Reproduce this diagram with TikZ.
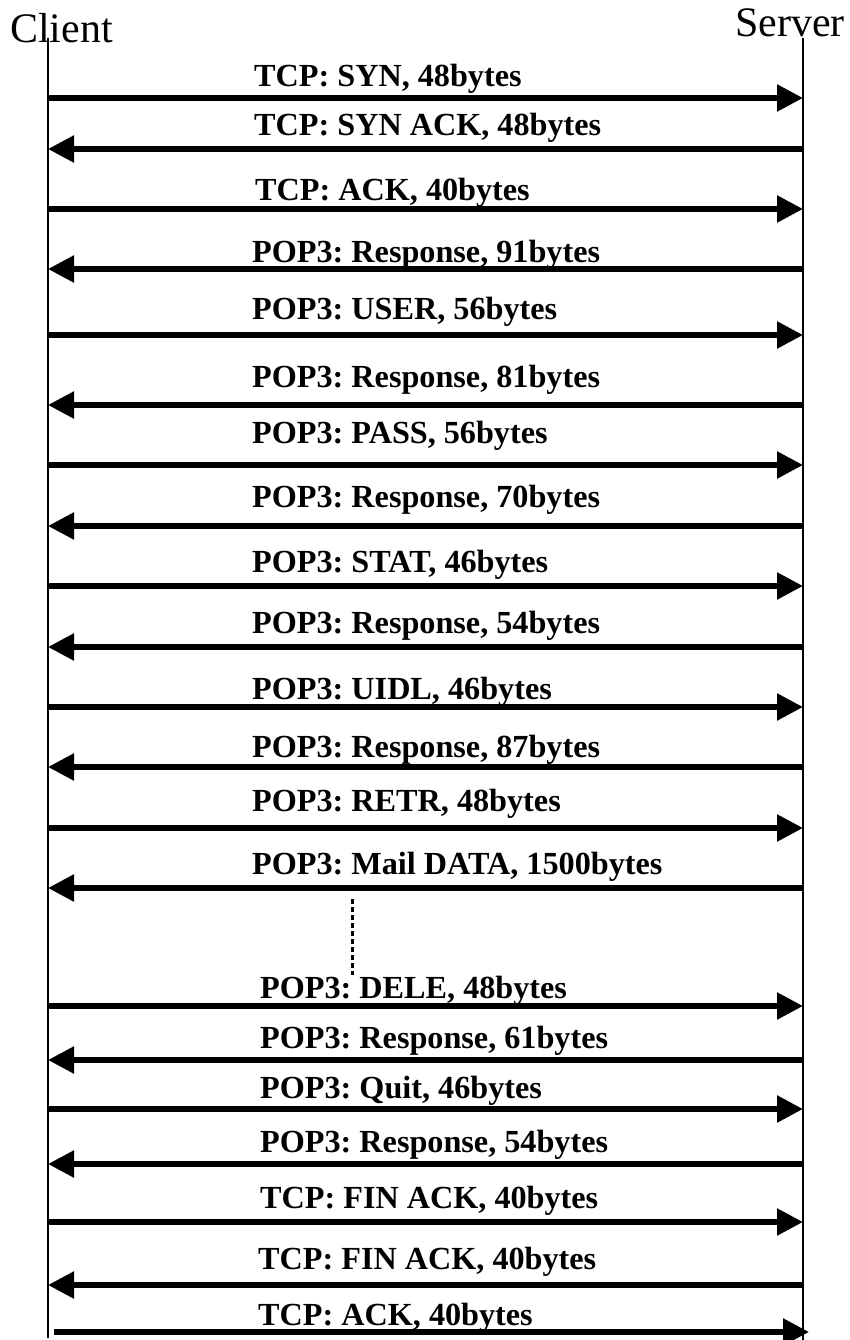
\documentclass[tikz,border=0pt]{standalone}
\usepackage{fontspec}
\setmainfont{Liberation Serif}
\usetikzlibrary{arrows.meta}
\frenchspacing
\begin{document}
\begin{tikzpicture}[x=1pt,y=-1pt,
  party/.style={inner sep=0pt,anchor=base west,font=\fontsize{42}{48}\selectfont},
  msglabel/.style={inner sep=0pt,anchor=base west,font=\fontsize{32.2}{36}\selectfont\bfseries\frenchspacing},
  lifeline/.style={line width=1.8pt},
  msg/.style={line width=5.5pt,-{Triangle[length=26pt,width=26pt]}},
  gap/.style={line width=3pt,dash pattern=on 5pt off 3pt}]
\useasboundingbox (0,0) rectangle (850,1340);
\node[party] (client) at (10,43) {Client};
\node[party] (server) at (735,37) {Server};
\coordinate (ctop) at (48,38);
\coordinate (cbot) at (48,1338);
\coordinate (stop) at (803,38);
\coordinate (sbot) at (803,1340);
\draw[lifeline] (ctop) -- (cbot);
\draw[lifeline] (stop) -- (sbot);
\foreach \i/\ay/\by/\d/\lx/\t in {
  1/98/87/r/254/{TCP: SYN, 48bytes},
  2/149/136/l/254/{TCP: SYN ACK, 48bytes},
  3/209/201/r/255/{TCP: ACK, 40bytes},
  4/269/262/l/252/{POP3: Response, 91bytes},
  5/335/319/r/252/{POP3: USER, 56bytes},
  6/405/387/l/252/{POP3: Response, 81bytes},
  7/465/443/r/252/{POP3: PASS, 56bytes},
  8/526/507/l/252/{POP3: Response, 70bytes},
  9/586/572/r/252/{POP3: STAT, 46bytes},
  10/647/633/l/252/{POP3: Response, 54bytes},
  11/707/699/r/252/{POP3: UIDL, 46bytes},
  12/767/757/l/252/{POP3: Response, 87bytes},
  13/828/811/r/252/{POP3: RETR, 48bytes},
  14/888/874/l/252/{POP3: Mail DATA, 1500bytes},
  15/1006/998/r/260/{POP3: DELE, 48bytes},
  16/1060/1048/l/260/{POP3: Response, 61bytes},
  17/1109/1098/r/260/{POP3: Quit, 46bytes},
  18/1164/1152/l/260/{POP3: Response, 54bytes},
  19/1222/1208/r/260/{TCP: FIN ACK, 40bytes},
  20/1285/1269/l/258/{TCP: FIN ACK, 40bytes}}{
  \coordinate (c\i) at (48,\ay);
  \coordinate (s\i) at (803,\ay);
  \node[msglabel] (lab\i) at (\lx,\by) {\t};
  \if r\d
    \draw[msg] (c\i) -- (s\i);
  \else
    \draw[msg] (s\i) -- (c\i);
  \fi
}
\coordinate (c21) at (54,1332);
\coordinate (s21) at (809,1332);
\node[msglabel] (lab21) at (258,1325) {TCP: ACK, 40bytes};
\draw[msg] (c21) -- (s21);
\coordinate (dtop) at (352,899);
\coordinate (dbot) at (352,975);
\draw[gap] (dtop) -- (dbot);
\end{tikzpicture}
\end{document}
